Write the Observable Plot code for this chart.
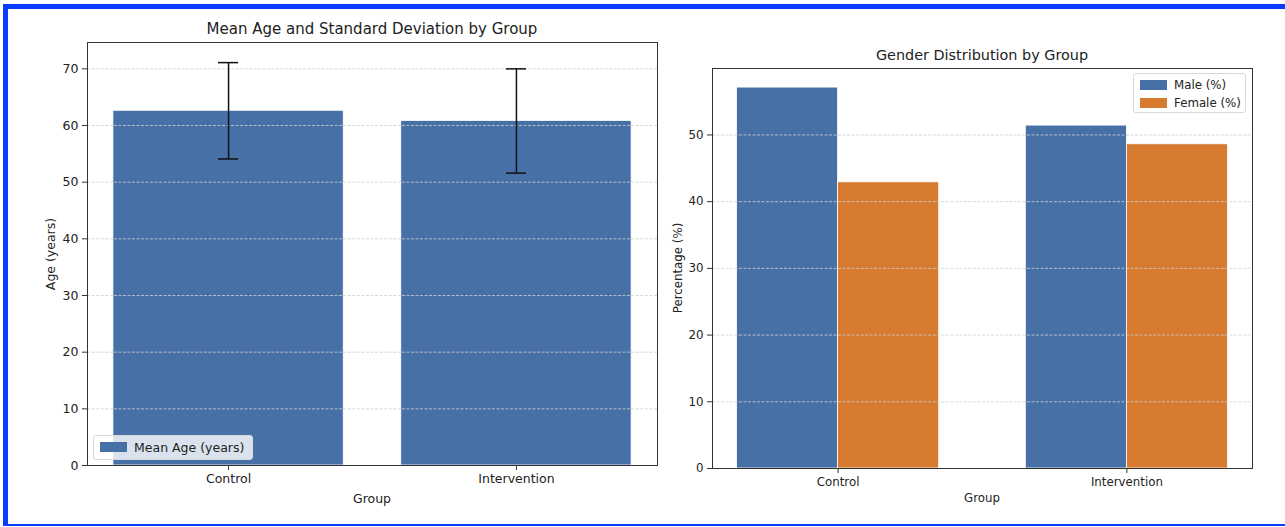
<!DOCTYPE html>
<html>
<head>
<meta charset="utf-8">
<script src="https://cdn.jsdelivr.net/npm/d3@7"></script>
<script src="https://cdn.jsdelivr.net/npm/@observablehq/plot@0.6"></script>
<style>
  html, body { margin: 0; padding: 0; background: #fff; }
  #wrap { position: relative; width: 1285px; height: 527px; overflow: hidden; background: #fff; font-family: "DejaVu Sans", sans-serif; color: #222; }
  .abs { position: absolute; }
  .ctr { position: absolute; transform: translate(-50%, -50%); white-space: nowrap; }
  .legend { position: absolute; border: 1px solid #d9d9d9; border-radius: 3px; background: rgba(255,255,255,0.8); box-sizing: border-box; }
  .sw { position: absolute; }
  .lt { position: absolute; white-space: nowrap; transform: translateY(-50%); }
</style>
</head>
<body>
<div id="wrap"></div>
<script>
// ---- data ----
const groups = ["Control", "Intervention"];
const meanAge = [62.6, 60.8];
const sdAge = [8.5, 9.2];
const malePct = [57.1, 51.4];
const femalePct = [42.9, 48.6];
const ageTicks = [0, 10, 20, 30, 40, 50, 60, 70];
const pctTicks = [0, 10, 20, 30, 40, 50];

const BLUE = "#4770a7";
const ORANGE = "#d67b30";
const GRID = "#cfcfcf";

const wrap = document.getElementById("wrap");

// ---- left chart ----
const ageRows = groups.map((g, i) => ({ i, g, mean: meanAge[i], sd: sdAge[i] }));
const left = Plot.plot({
  width: 660, height: 527,
  marginLeft: 87, marginRight: 3, marginTop: 42, marginBottom: 62,
  style: { fontFamily: "DejaVu Sans", fontSize: "12.5px", color: "#222", background: "transparent" },
  x: { domain: [-0.49, 1.49] },
  y: { domain: [0, 74.65] },
  marks: [
    Plot.rectY(ageRows, { x1: d => d.i - 0.4, x2: d => d.i + 0.4, y1: 0, y2: "mean", fill: BLUE, stroke: "#fff", strokeWidth: 0.8 }),
    Plot.ruleY(ageTicks, { stroke: GRID, strokeDasharray: "3,1.5", strokeWidth: 0.8 }),
    Plot.ruleX(ageRows, { x: "i", y1: d => d.mean - d.sd, y2: d => d.mean + d.sd, stroke: "#111", strokeWidth: 1.5 }),
    Plot.ruleY(ageRows, { y: d => d.mean - d.sd, x1: d => d.i - 0.035, x2: d => d.i + 0.035, stroke: "#111", strokeWidth: 1.5 }),
    Plot.ruleY(ageRows, { y: d => d.mean + d.sd, x1: d => d.i - 0.035, x2: d => d.i + 0.035, stroke: "#111", strokeWidth: 1.5 }),
    Plot.frame({ stroke: "#333", strokeWidth: 1 }),
    Plot.axisY({ ticks: ageTicks, tickSize: 5, tickPadding: 4, fontSize: 12.5, label: null, stroke: "#333" }),
    Plot.axisX({ ticks: [0, 1], tickFormat: i => groups[i], tickSize: 5, tickPadding: 4, fontSize: 12.5, label: null, stroke: "#333" })
  ]
});
left.style.position = "absolute";
left.style.left = "0px";
left.style.top = "0px";
wrap.appendChild(left);

// ---- right chart ----
const genRows = groups.flatMap((g, i) => [
  { i, g, sex: "Male (%)", v: malePct[i], x1: i - 0.35, x2: i },
  { i, g, sex: "Female (%)", v: femalePct[i], x1: i, x2: i + 0.35 }
]);
const right = Plot.plot({
  width: 625, height: 527,
  marginLeft: 52, marginRight: 33, marginTop: 68, marginBottom: 59,
  style: { fontFamily: "DejaVu Sans", fontSize: "11.8px", color: "#222", background: "transparent" },
  x: { domain: [-0.435, 1.435] },
  y: { domain: [0, 59.96] },
  color: { domain: ["Male (%)", "Female (%)"], range: [BLUE, ORANGE] },
  marks: [
    Plot.rectY(genRows, { x1: "x1", x2: "x2", y1: 0, y2: "v", fill: "sex", stroke: "#fff", strokeWidth: 0.8 }),
    Plot.ruleY(pctTicks, { stroke: GRID, strokeDasharray: "3,1.5", strokeWidth: 0.8 }),
    Plot.frame({ stroke: "#333", strokeWidth: 1 }),
    Plot.axisY({ ticks: pctTicks, tickSize: 5, tickPadding: 4, fontSize: 11.8, label: null, stroke: "#333" }),
    Plot.axisX({ ticks: [0, 1], tickFormat: i => groups[i], tickSize: 5, tickPadding: 4, fontSize: 11.8, label: null, stroke: "#333" })
  ]
});
right.style.position = "absolute";
right.style.left = "660px";
right.style.top = "0px";
wrap.appendChild(right);

// ---- text ----
function addText(txt, x, y, size, rot) {
  const d = document.createElement("div");
  d.className = "ctr";
  d.textContent = txt;
  d.style.left = x + "px";
  d.style.top = y + "px";
  d.style.fontSize = size + "px";
  if (rot) d.style.transform = "translate(-50%, -50%) rotate(-90deg)";
  wrap.appendChild(d);
}
addText("Mean Age and Standard Deviation by Group", 372, 29, 15);
addText("Age (years)", 50, 254, 12.5, true);
addText("Group", 372, 498, 12.5);
addText("Gender Distribution by Group", 982, 55, 14.4);
addText("Percentage (%)", 678, 268, 11.8, true);
addText("Group", 982, 498, 11.8);

// ---- legends ----
function addLegend(x, y, w, h, items, size) {
  const L = document.createElement("div");
  L.className = "legend";
  L.style.left = x + "px"; L.style.top = y + "px";
  L.style.width = w + "px"; L.style.height = h + "px";
  items.forEach((it, k) => {
    const s = document.createElement("div");
    s.className = "sw";
    s.style.left = "6px"; s.style.top = (6 + k * 18) + "px";
    s.style.width = "27px"; s.style.height = "10px";
    s.style.background = it.color;
    L.appendChild(s);
    const t = document.createElement("div");
    t.className = "lt";
    t.textContent = it.label;
    t.style.left = "40px"; t.style.top = (11 + k * 18) + "px";
    t.style.fontSize = size + "px";
    L.appendChild(t);
  });
  wrap.appendChild(L);
}
addLegend(93, 435, 160, 25, [{ label: "Mean Age (years)", color: BLUE }], 12.5);
addLegend(1133, 73, 113, 40, [{ label: "Male (%)", color: BLUE }, { label: "Female (%)", color: ORANGE }], 11.8);

// ---- blue border ----
function addBar(x, y, w, h) {
  const b = document.createElement("div");
  b.className = "abs";
  b.style.left = x + "px"; b.style.top = y + "px";
  b.style.width = w + "px"; b.style.height = h + "px";
  b.style.background = "#0a3cff";
  wrap.appendChild(b);
}
addBar(3, 4, 1282, 5);
addBar(3, 4, 5, 522);
addBar(3, 524, 1282, 2);
</script>
</body>
</html>
